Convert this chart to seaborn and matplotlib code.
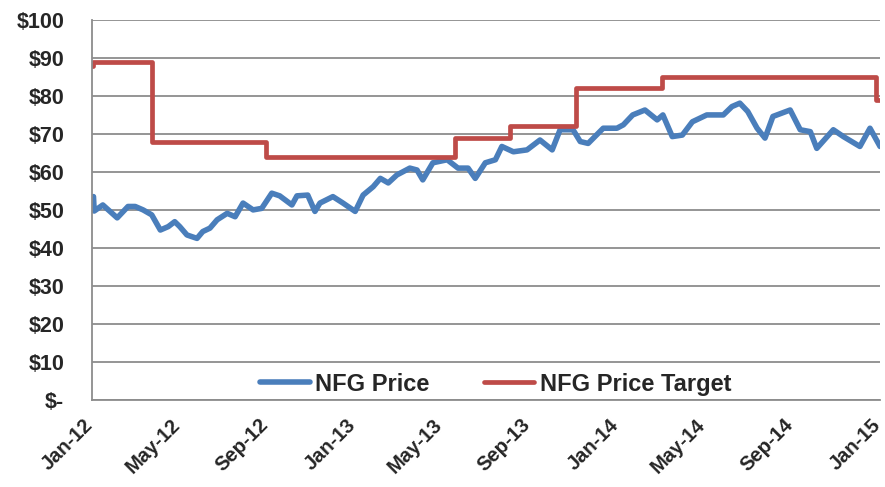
import pandas as pd
import matplotlib
matplotlib.use('Agg')
import matplotlib.pyplot as plt
import matplotlib.dates as mdates
import matplotlib.transforms as mtransforms
from matplotlib.ticker import FuncFormatter, MultipleLocator
import seaborn as sns

# NFG share price
price_dates = ['2012-01-03', '2012-01-04', '2012-01-16', '2012-02-05', '2012-02-20', '2012-03-01',
               '2012-03-12', '2012-03-24', '2012-04-05', '2012-04-16', '2012-04-25', '2012-05-02',
               '2012-05-12', '2012-05-26', '2012-06-03', '2012-06-13', '2012-06-23', '2012-07-07',
               '2012-07-18', '2012-07-29', '2012-08-12', '2012-08-24', '2012-09-07', '2012-09-18',
               '2012-10-05', '2012-10-12', '2012-10-27', '2012-11-06', '2012-11-13', '2012-12-01',
               '2012-12-15', '2013-01-01', '2013-01-12', '2013-01-26', '2013-02-05', '2013-02-16',
               '2013-02-28', '2013-03-18', '2013-03-28', '2013-04-05', '2013-04-19', '2013-05-09',
               '2013-05-24', '2013-06-07', '2013-06-17', '2013-07-01', '2013-07-15', '2013-07-24',
               '2013-08-09', '2013-08-28', '2013-09-15', '2013-10-02', '2013-10-13', '2013-10-31',
               '2013-11-10', '2013-11-21', '2013-12-12', '2013-12-31', '2014-01-09', '2014-01-22',
               '2014-02-08', '2014-02-25', '2014-03-05', '2014-03-18', '2014-04-01', '2014-04-15',
               '2014-05-05', '2014-05-28', '2014-06-09', '2014-06-20', '2014-07-01', '2014-07-14',
               '2014-07-25', '2014-08-05', '2014-08-29', '2014-09-12', '2014-09-26', '2014-10-05',
               '2014-10-28', '2014-11-11', '2014-12-04', '2014-12-18', '2015-01-01']
price_values = [53.5, 49.7, 51.3, 47.9, 50.9, 50.9,
                50.0, 48.7, 44.7, 45.6, 46.9, 45.6,
                43.4, 42.5, 44.3, 45.2, 47.4, 49.1,
                48.2, 51.8, 50.0, 50.4, 54.4, 53.7,
                51.3, 53.7, 53.9, 49.6, 51.8, 53.5,
                51.8, 49.6, 53.9, 56.1, 58.3, 57.1,
                59.2, 61.0, 60.5, 57.9, 62.4, 63.2,
                61.0, 61.0, 58.3, 62.4, 63.2, 66.7,
                65.3, 65.8, 68.4, 65.8, 71.1, 71.1,
                68.0, 67.5, 71.5, 71.5, 72.4, 75.0,
                76.3, 73.7, 75.0, 69.3, 69.7, 73.2,
                75.0, 75.0, 77.2, 78.1, 75.9, 71.5,
                68.9, 74.6, 76.3, 71.1, 70.6, 66.2,
                71.1, 69.3, 66.7, 71.5, 66.7]

# analyst price target (step series)
target_dates = ['2012-01-01', '2012-01-03', '2012-03-24', '2012-08-30', '2013-05-20',
                '2013-08-05', '2013-11-04', '2014-03-04', '2014-12-27', '2015-01-01']
target_values = [88, 89, 68, 64, 69, 72, 82, 85, 79, 79]

price = pd.DataFrame({'date': pd.to_datetime(price_dates), 'value': price_values})
target = pd.DataFrame({'date': pd.to_datetime(target_dates), 'value': target_values})

sns.set_style('white')
plt.rcParams['font.family'] = ['Liberation Sans', 'DejaVu Sans']

fig = plt.figure(figsize=(8.85, 4.87), dpi=100)
ax = fig.add_axes([0.104, 0.179, 0.8904, 0.780])

sns.lineplot(data=price, x='date', y='value', ax=ax, color='#4A7EBB', lw=4,
             label='NFG Price')
sns.lineplot(data=target, x='date', y='value', ax=ax, color='#BE4B48', lw=3.4,
             drawstyle='steps-post', label='NFG Price Target')

ax.set_xlim(pd.Timestamp('2012-01-01'), pd.Timestamp('2015-01-01'))
ax.set_ylim(0, 100)
ax.yaxis.set_major_locator(MultipleLocator(10))
ax.yaxis.set_major_formatter(FuncFormatter(lambda v, p: '$-' if v == 0 else f'${v:.0f}'))
ax.xaxis.set_major_locator(mdates.MonthLocator(bymonth=[1, 5, 9]))
ax.xaxis.set_major_formatter(mdates.DateFormatter('%b-%y'))

ax.grid(axis='y', color='#8c8c8c', lw=1.3)
ax.set_axisbelow(True)
for s in ['top', 'right']:
    ax.spines[s].set_visible(False)
for s in ['left', 'bottom']:
    ax.spines[s].set_color('#8c8c8c')
    ax.spines[s].set_linewidth(1.3)

ax.tick_params(axis='both', which='major', direction='out', length=6, width=1.3,
               color='#8c8c8c')
ax.tick_params(axis='y', pad=14, labelsize=15.5)
ax.tick_params(axis='x', labelsize=14.5)
shift = mtransforms.ScaledTranslation(-9 / 100, -2 / 100, fig.dpi_scale_trans)
for lbl in ax.get_xticklabels():
    lbl.set_rotation(45)
    lbl.set_ha('right')
    lbl.set_rotation_mode('anchor')
    lbl.set_fontweight('bold')
    lbl.set_transform(lbl.get_transform() + shift)
plt.setp(ax.get_yticklabels(), fontweight='bold')
ax.set_xlabel('')
ax.set_ylabel('')

leg = ax.legend(loc='lower center', bbox_to_anchor=(0.512, -0.045), ncol=2, frameon=False,
                prop={'size': 17, 'weight': 'bold'}, handlelength=2.1, columnspacing=2.3,
                handletextpad=0.25)

fig.savefig('out.png', dpi=100)
